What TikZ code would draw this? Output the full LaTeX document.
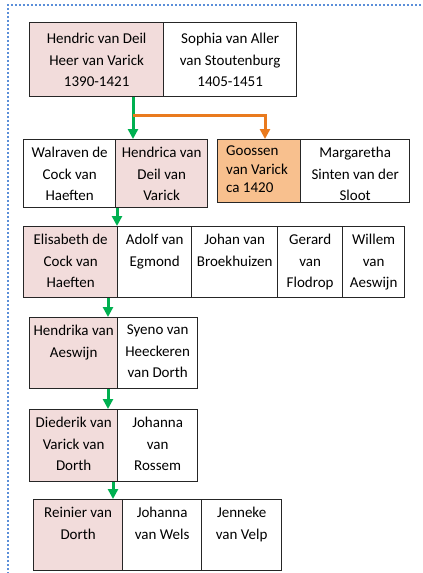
\documentclass[tikz,border=0pt]{standalone}
\usepackage{fontspec}
\setmainfont{Carlito}
\usetikzlibrary{arrows.meta}
\definecolor{famgreen}{HTML}{00B050}
\definecolor{famorange}{HTML}{E97A1E}
\definecolor{lineagefill}{HTML}{F2DCDB}
\definecolor{heirfill}{HTML}{F8C08E}
\definecolor{frameblue}{HTML}{5B8FD9}
\tikzset{
  cell/.style={draw=black!85, line width=1.3pt, rectangle, inner sep=0pt, anchor=north west},
  label/.style={anchor=north, align=center, inner sep=0pt, font=\fontsize{15}{21.5}\selectfont},
  desc/.style={line width=3pt, -{Triangle[width=10pt,length=10pt]}},
  gdesc/.style={desc, draw=famgreen},
  odesc/.style={desc, draw=famorange},
}
% \person{name}{x1}{y1}{x2}{y2}{fill}{text}{top gap}
\newcommand\person[8][8pt]{%
  \node[cell, fill=#7, minimum width=#5pt-#3pt, minimum height=#6pt-#4pt] (#2) at (#3,#4) {};
  \node[label] (#2-txt) at ([yshift=-#1]#2.north) {#8};
}
\begin{document}
\begin{tikzpicture}[x=1pt,y=-1pt]
\useasboundingbox (0,0) rectangle (423,573);
% dotted frame
\draw[frameblue, line width=2pt, dash pattern=on 2pt off 2pt] (8,590) -- (8,5) -- (440,5);

% generation 1
\person[11pt]{hendric}{29}{22}{163}{96}{lineagefill}{Hendric van Deil\\Heer van Varick\\1390-1421}
\person[11pt]{sophia}{163}{22}{296}{96}{white}{Sophia van Aller\\van Stoutenburg\\1405-1451}

% generation 2
\person{walraven}{23}{139}{115}{207}{white}{Walraven de\\Cock van\\Haeften}
\person{hendrica}{115}{139}{207}{207}{lineagefill}{Hendrica van\\Deil van\\Varick}
\node[cell, fill=heirfill, minimum width=83pt, minimum height=63pt] (goossen) at (217,139) {};
\node[label, anchor=north west, align=left, font=\fontsize{15}{18.5}\selectfont] (goossen-txt) at ([xshift=9pt,yshift=-7pt]goossen.north west) {Goossen\\van Varick\\ca 1420};
\person{margaretha}{300}{139}{409}{202}{white}{Margaretha\\Sinten van der\\Sloot}

% generation 3
\person{elisabeth}{23}{226}{117}{297}{lineagefill}{Elisabeth de\\Cock van\\Haeften}
\person{adolf}{117}{226}{191}{297}{white}{Adolf van\\Egmond}
\person{johan}{191}{226}{277}{297}{white}{Johan van\\Broekhuizen}
\person{gerard}{277}{226}{342}{297}{white}{Gerard\\van\\Flodrop}
\person{willem}{342}{226}{404}{297}{white}{Willem\\van\\Aeswijn}

% generation 4
\person{hendrika}{29}{317}{117}{388}{lineagefill}{Hendrika van\\Aeswijn}
\person{syeno}{117}{317}{197}{388}{white}{Syeno van\\Heeckeren\\van Dorth}

% generation 5
\person{diederik}{29}{409}{117}{481}{lineagefill}{Diederik van\\Varick van\\Dorth}
\person{johannar}{117}{409}{197}{481}{white}{Johanna\\van\\Rossem}

% generation 6
\person{reinier}{33}{499}{122}{570}{lineagefill}{Reinier van\\Dorth}
\person{johannaw}{122}{499}{201}{570}{white}{Johanna\\van Wels}
\person{jenneke}{201}{499}{281}{570}{white}{Jenneke\\van Velp}

% lines of descent
\coordinate (d1) at (133,0);
\coordinate (d2) at (265,0);
\coordinate (d3) at (117,0);
\coordinate (d4) at (108,0);
\coordinate (d5) at (113,0);
\coordinate (fork) at (133,115);
\draw[gdesc] (d1 |- hendric.south) -- (d1 |- hendrica.north);
\draw[odesc] (fork) -| (d2 |- goossen.north);
\draw[gdesc] (d3 |- hendrica.south) -- (d3 |- elisabeth.north);
\draw[gdesc] (d4 |- elisabeth.south) -- (d4 |- hendrika.north);
\draw[gdesc] (d4 |- hendrika.south) -- (d4 |- diederik.north);
\draw[gdesc] (d5 |- diederik.south) -- (d5 |- reinier.north);
\end{tikzpicture}
\end{document}
